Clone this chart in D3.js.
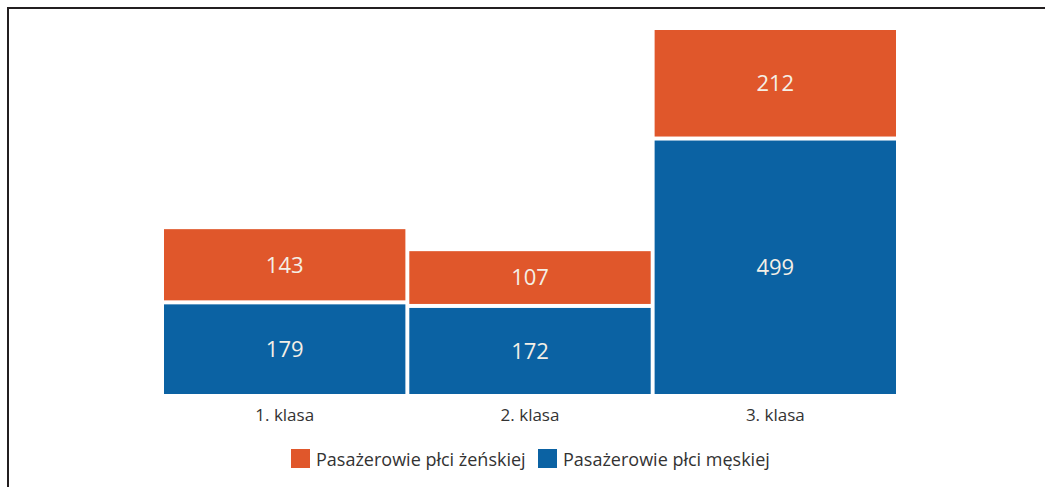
<!DOCTYPE html>
<html>
<head>
<meta charset="utf-8">
<script src="https://cdn.jsdelivr.net/npm/d3@7"></script>
<style>
  body { margin: 0; background: #fff; }
  svg text { font-family: "Open Sans", "Noto Sans", sans-serif; }
</style>
</head>
<body>
<svg id="chart" width="1045" height="487"></svg>
<script>
// data
var classes = ["1. klasa", "2. klasa", "3. klasa"];
var male = [179, 172, 499];     // Pasażerowie płci męskiej (bottom)
var female = [143, 107, 212];   // Pasażerowie płci żeńskiej (top)
var seriesNames = ["Pasażerowie płci żeńskiej", "Pasażerowie płci męskiej"];

var orange = "#e0572b", blue = "#0b62a3";
var width = 1045, height = 487;

var svg = d3.select("#chart");

// frame: top and left rule only
svg.append("line").attr("x1", 8).attr("x2", width).attr("y1", 8).attr("y2", 8)
  .attr("stroke", "#231f20").attr("stroke-width", 2);
svg.append("line").attr("x1", 8).attr("x2", 8).attr("y1", 7).attr("y2", height)
  .attr("stroke", "#231f20").attr("stroke-width", 2);

var rows = classes.map(function(c, i) {
  return {klasa: c, m: male[i], f: female[i]};
});

var x = d3.scaleBand()
  .domain(classes)
  .range([164, 896])
  .paddingInner(0.016);

var y = d3.scaleLinear()
  .domain([0, d3.max(rows, function(d) { return d.m + d.f; })])
  .range([394, 30]);

var gap = 2; // half of the white gap between stacked parts

var g = svg.append("g");

// male (bottom)
g.selectAll(".m").data(rows).enter().append("rect")
  .attr("class", "m")
  .attr("x", function(d) { return x(d.klasa); })
  .attr("width", x.bandwidth())
  .attr("y", function(d) { return y(d.m) + gap; })
  .attr("height", function(d) { return y(0) - y(d.m) - gap; })
  .attr("fill", blue);

// female (top)
g.selectAll(".f").data(rows).enter().append("rect")
  .attr("class", "f")
  .attr("x", function(d) { return x(d.klasa); })
  .attr("width", x.bandwidth())
  .attr("y", function(d) { return y(d.m + d.f); })
  .attr("height", function(d) { return y(d.m) - y(d.m + d.f) - gap; })
  .attr("fill", orange);

// value labels
g.selectAll(".ml").data(rows).enter().append("text")
  .attr("x", function(d) { return x(d.klasa) + x.bandwidth() / 2; })
  .attr("y", function(d) { return (y(d.m) + gap + y(0)) / 2; })
  .attr("dy", "0.36em")
  .attr("text-anchor", "middle")
  .attr("font-size", 22)
  .attr("fill", "#f4efe6")
  .text(function(d) { return d.m; });

g.selectAll(".fl").data(rows).enter().append("text")
  .attr("x", function(d) { return x(d.klasa) + x.bandwidth() / 2; })
  .attr("y", function(d) { return (y(d.m + d.f) + y(d.m) - gap) / 2; })
  .attr("dy", "0.36em")
  .attr("text-anchor", "middle")
  .attr("font-size", 22)
  .attr("fill", "#f4efe6")
  .text(function(d) { return d.f; });

// category axis
var xAxis = svg.append("g")
  .attr("transform", "translate(0," + 394 + ")")
  .call(d3.axisBottom(x).tickSize(0).tickPadding(0));
xAxis.select(".domain").remove();
xAxis.selectAll("text")
  .attr("y", 27)
  .attr("dy", 0)
  .attr("font-size", 17)
  .attr("font-family", "Open Sans")
  .attr("fill", "#333");

// legend
var legendData = [
  {name: seriesNames[0], color: orange, x: 291},
  {name: seriesNames[1], color: blue, x: 538}
];
var legend = svg.selectAll(".legend").data(legendData).enter().append("g")
  .attr("class", "legend")
  .attr("transform", function(d) { return "translate(" + d.x + ",449)"; });
legend.append("rect")
  .attr("width", 19).attr("height", 19)
  .attr("fill", function(d) { return d.color; });
legend.append("text")
  .attr("x", 25)
  .attr("y", 17)
  .attr("font-size", 18)
  .attr("fill", "#333")
  .text(function(d) { return d.name; });
</script>
</body>
</html>
